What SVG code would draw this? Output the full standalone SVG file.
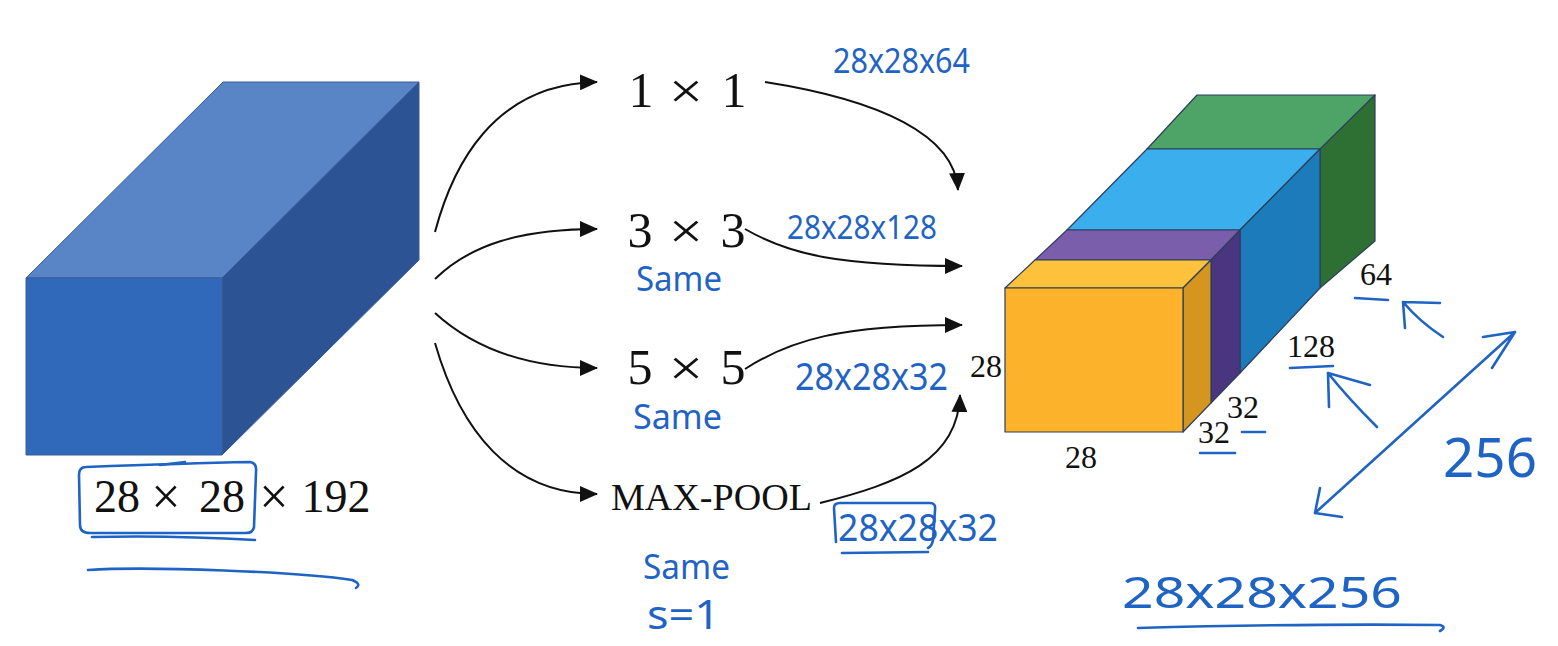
<svg xmlns="http://www.w3.org/2000/svg" width="1558" height="646" viewBox="0 0 1558 646">
<style>
.tex{font-family:"Liberation Serif","Times New Roman",serif;fill:#111;}
.hw{font-family:"Noto Sans","DejaVu Sans",sans-serif;fill:#1f63c4;}
.hwl{fill:none;stroke:#1f63c4;stroke-width:2.6;stroke-linecap:round;stroke-linejoin:round;}
.conn{fill:none;stroke:#111;stroke-width:2;}
.edge{stroke:#2d3e5c;stroke-width:1.2;stroke-linejoin:round;}
.edgeb{stroke:#3a5c9a;stroke-width:1;stroke-linejoin:round;}
</style>
<defs>
<marker id="ah" viewBox="0 0 18 16" refX="17" refY="8" markerWidth="18" markerHeight="16" markerUnits="userSpaceOnUse" orient="auto">
<path d="M0,0 L18,8 L0,16 z" fill="#111"/>
</marker>
</defs>
<rect width="1558" height="646" fill="#ffffff"/>

<g id="node-input">
<polygon class="edgeb" points="26,278 223,82 419,82 222,278" fill="#5985c7"/>
<polygon class="edgeb" points="222,278 419,82 419,260 222,455" fill="#2c5494"/>
<rect class="edgeb" x="26" y="278" width="196" height="177" fill="#3069ba"/>
<text class="tex" font-size="46" y="512" text-anchor="middle"><tspan x="117">28</tspan><tspan x="166" font-size="52" dy="2">×</tspan><tspan x="222" dy="-2">28</tspan><tspan x="274" font-size="52" dy="2">×</tspan><tspan x="336" dy="-2">192</tspan></text>
</g>

<g id="node-1x1">
<text class="tex" font-size="50" y="107" text-anchor="middle"><tspan x="641">1</tspan><tspan x="734">1</tspan></text>
<text class="tex" font-size="50" x="0" y="108" text-anchor="middle" transform="translate(686,0) scale(1.22,1)">×</text>
</g>
<g id="node-3x3">
<text class="tex" font-size="50" y="247" text-anchor="middle"><tspan x="640">3</tspan><tspan x="733">3</tspan></text>
<text class="tex" font-size="50" x="0" y="248" text-anchor="middle" transform="translate(686,0) scale(1.22,1)">×</text>
</g>
<g id="node-5x5">
<text class="tex" font-size="50" y="384" text-anchor="middle"><tspan x="640">5</tspan><tspan x="733">5</tspan></text>
<text class="tex" font-size="50" x="0" y="385" text-anchor="middle" transform="translate(686,0) scale(1.22,1)">×</text>
</g>
<g id="node-maxpool">
<text class="tex" font-size="38" x="611" y="510" textLength="201" lengthAdjust="spacingAndGlyphs">MAX-POOL</text>
</g>

<g id="node-output">
<polygon class="edge" points="1147,149 1197,95 1375,95 1325,149" fill="#4ea366"/>
<polygon class="edge" points="1320,149 1375,95 1375,241 1320,288" fill="#2e7034"/>
<polygon class="edge" points="1067,230 1147,149 1320,149 1240,230" fill="#3baeee"/>
<polygon class="edge" points="1240,230 1320,149 1320,288 1240,373" fill="#1c7bba"/>
<polygon class="edge" points="1035,260 1067,230 1240,230 1211,260" fill="#7b5eab"/>
<polygon class="edge" points="1211,260 1240,230 1240,373 1211,403" fill="#4a3580"/>
<polygon class="edge" points="1005,288 1035,260 1211,260 1183,288" fill="#fec13c"/>
<polygon class="edge" points="1183,288 1211,260 1211,403 1183,432" fill="#d4961f"/>
<rect class="edge" x="1005" y="288" width="178" height="144" fill="#fdb22b"/>
<g class="tex" font-size="32">
<text x="1002" y="377" text-anchor="end">28</text>
<text x="1065" y="468">28</text>
<text x="1198" y="443">32</text>
<text x="1227" y="418">32</text>
<text x="1287" y="357">128</text>
<text x="1360" y="285">64</text>
</g>
</g>

<g id="connectors">
<path class="conn" d="M435,232 C452,168 492,84 597,82" marker-end="url(#ah)"/>
<path class="conn" d="M435,279 C470,245 520,229 597,229" marker-end="url(#ah)"/>
<path class="conn" d="M435,313 C470,345 520,368 597,368" marker-end="url(#ah)"/>
<path class="conn" d="M435,343 C460,430 510,494 597,494" marker-end="url(#ah)"/>
<path class="conn" d="M765,82 C880,100 955,135 958,190" marker-end="url(#ah)"/>
<path class="conn" d="M745,229 C790,255 840,266 962,266" marker-end="url(#ah)"/>
<path class="conn" d="M745,369 C790,340 840,325 962,325" marker-end="url(#ah)"/>
<path class="conn" d="M820,503 C900,483 958,460 960,395" marker-end="url(#ah)"/>
</g>

<g id="annotations">
<path class="hwl" d="M86,467 C140,465 200,463 250,462 Q257,463 256,472 L254,527 Q253,533 246,533 L90,533 Q80,533 80,525 L79,475 Q79,467 86,467 Z"/>
<path class="hwl" d="M160,465 L185,462"/>
<path class="hwl" d="M92,537 Q170,535 255,540"/>
<path class="hwl" d="M88,570 C150,566 300,572 352,580 Q362,584 356,588"/>

<text class="hw" font-size="34" x="833" y="73" textLength="137" lengthAdjust="spacingAndGlyphs">28x28x64</text>
<text class="hw" font-size="32" x="787" y="239" textLength="150" lengthAdjust="spacingAndGlyphs">28x28x128</text>
<text class="hw" font-size="38" x="795" y="390" textLength="153" lengthAdjust="spacingAndGlyphs">28x28x32</text>
<text class="hw" font-size="38" x="838" y="541" textLength="160" lengthAdjust="spacingAndGlyphs">28x28x32</text>
<path class="hwl" d="M836,542 L834,508 Q834,503 840,503 L930,503 Q936,503 935,510 L933,540 Q932,546 928,548"/>
<path class="hwl" d="M842,553 L928,552"/>

<text class="hw" font-size="34" x="636" y="291" textLength="86" lengthAdjust="spacingAndGlyphs">Same</text>
<text class="hw" font-size="34" x="633" y="429" textLength="89" lengthAdjust="spacingAndGlyphs">Same</text>
<text class="hw" font-size="34" x="643" y="579" textLength="87" lengthAdjust="spacingAndGlyphs">Same</text>
<text class="hw" font-size="40" x="647" y="629" textLength="73" lengthAdjust="spacingAndGlyphs">s=1</text>

<path class="hwl" d="M1355,298 L1388,300"/>
<path class="hwl" d="M1443,337 Q1420,322 1403,302 M1405,328 L1403,302 L1440,303"/>
<path class="hwl" d="M1290,368 L1333,366"/>
<path class="hwl" d="M1377,427 Q1347,397 1328,373 M1329,407 L1328,373 L1370,385"/>
<path class="hwl" d="M1200,453 L1235,453"/>
<path class="hwl" d="M1242,432 L1265,432"/>
<path class="hwl" d="M1515,332 L1315,513 M1483,337 L1515,332 L1492,368 M1320,488 L1315,513 L1342,517"/>
<text class="hw" font-size="54" x="1443" y="477" textLength="94" lengthAdjust="spacingAndGlyphs">256</text>
<text class="hw" font-size="44" x="1122" y="608" textLength="280" lengthAdjust="spacingAndGlyphs">28x28x256</text>
<path class="hwl" d="M1138,628 C1250,625 1350,624 1440,625 Q1447,627 1440,631"/>
</g>
</svg>
